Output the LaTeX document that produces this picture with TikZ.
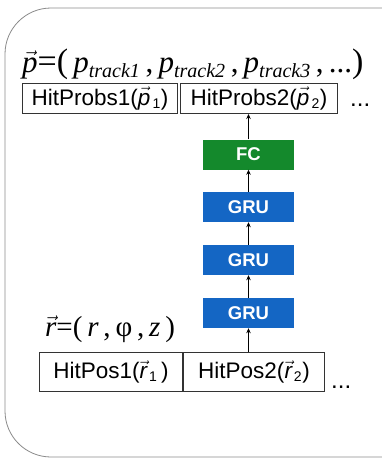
\documentclass[tikz,border=0pt]{standalone}
\usepackage{fontspec}
\setmainfont{Liberation Serif}
\setsansfont{Liberation Sans}
\usetikzlibrary{arrows.meta,positioning}
\definecolor{grublue}{HTML}{1466C4}
\definecolor{fcgreen}{HTML}{14892C}
\definecolor{framegray}{HTML}{8A8A8A}
\newcommand{\vecit}[1]{$\vec{\hbox{\itshape #1}}$}
\newcommand{\subsc}[1]{\textsubscript{\itshape\fontsize{20}{20}\selectfont #1}}
\newcommand{\idx}[1]{\kern2pt\textsubscript{\fontsize{14}{14}\selectfont #1}}
\tikzset{
  frame/.style={draw=framegray,line width=0.8pt,rounded corners=46pt},
  formula/.style={font=\fontsize{31}{34}\selectfont,anchor=base west,inner sep=0pt},
  hitbox/.style={draw=black!80,line width=1pt,font=\sffamily\fontsize{22.5}{25}\selectfont,inner sep=0pt,anchor=north west},
  layer/.style={font=\sffamily\bfseries\fontsize{18.5}{20}\selectfont,text=white,minimum width=91pt,minimum height=30pt,inner sep=0pt},
  gru/.style={layer,fill=grublue},
  fc/.style={layer,fill=fcgreen},
  dots/.style={font=\sffamily\fontsize{24}{26}\selectfont,anchor=base west,inner sep=0pt},
  arr/.style={-{Stealth[length=5pt,width=4.5pt]},draw=black,line width=0.9pt}
}
\begin{document}
\begin{tikzpicture}[x=1pt,y=-1pt]
\useasboundingbox (0,0) rectangle (382,461);
\begin{scope}
\clip (0,0) rectangle (382,461);
\draw[frame] (5,8) rectangle (430,457);
\end{scope}
% output side
\node[formula] (pform) at (22,72) {\vecit{p}{\fontsize{34}{34}\selectfont=(}\,{\itshape p}\subsc{track1}\,,\,{\itshape p}\subsc{track2}\,,\,{\itshape p}\subsc{track3}\,,\,...{\fontsize{34}{34}\selectfont)}};
\node[hitbox,minimum width=155pt,minimum height=30pt] (prob1) at (22,83) {HitProbs1(\vecit{p}\idx{1})};
\node[hitbox,minimum width=157pt,minimum height=30pt] (prob2) at (180,83) {HitProbs2(\vecit{p}\idx{2})};
\node[dots] (pdots) at (350,106) {...};
% network
\node[fc] (fc) at (248.5,154.5) {FC};
\node[gru] (gru1) at (248.5,207) {GRU};
\node[gru] (gru2) at (248.5,260) {GRU};
\node[gru] (gru3) at (248.5,313) {GRU};
% input side
\node[formula,font=\fontsize{29}{32}\selectfont] (rform) at (45,336) {\vecit{r}=(\,{\itshape r}\,,\,φ\,,\,{\itshape z}\,)};
\node[hitbox,minimum width=143pt,minimum height=39pt] (pos1) at (39,352) {HitPos1(\vecit{r}\idx{1}\,)};
\node[hitbox,minimum width=141pt,minimum height=39pt] (pos2) at (183,352) {HitPos2(\vecit{r}\idx{2})};
\node[dots] (rdots) at (331,388) {...};
% connections
\draw[arr] (pos2.north -| gru3) -- (gru3);
\draw[arr] (gru3) -- (gru2);
\draw[arr] (gru2) -- (gru1);
\draw[arr] (gru1) -- (fc);
\draw[arr] (fc) -- (prob2.south -| fc);
\end{tikzpicture}
\end{document}
